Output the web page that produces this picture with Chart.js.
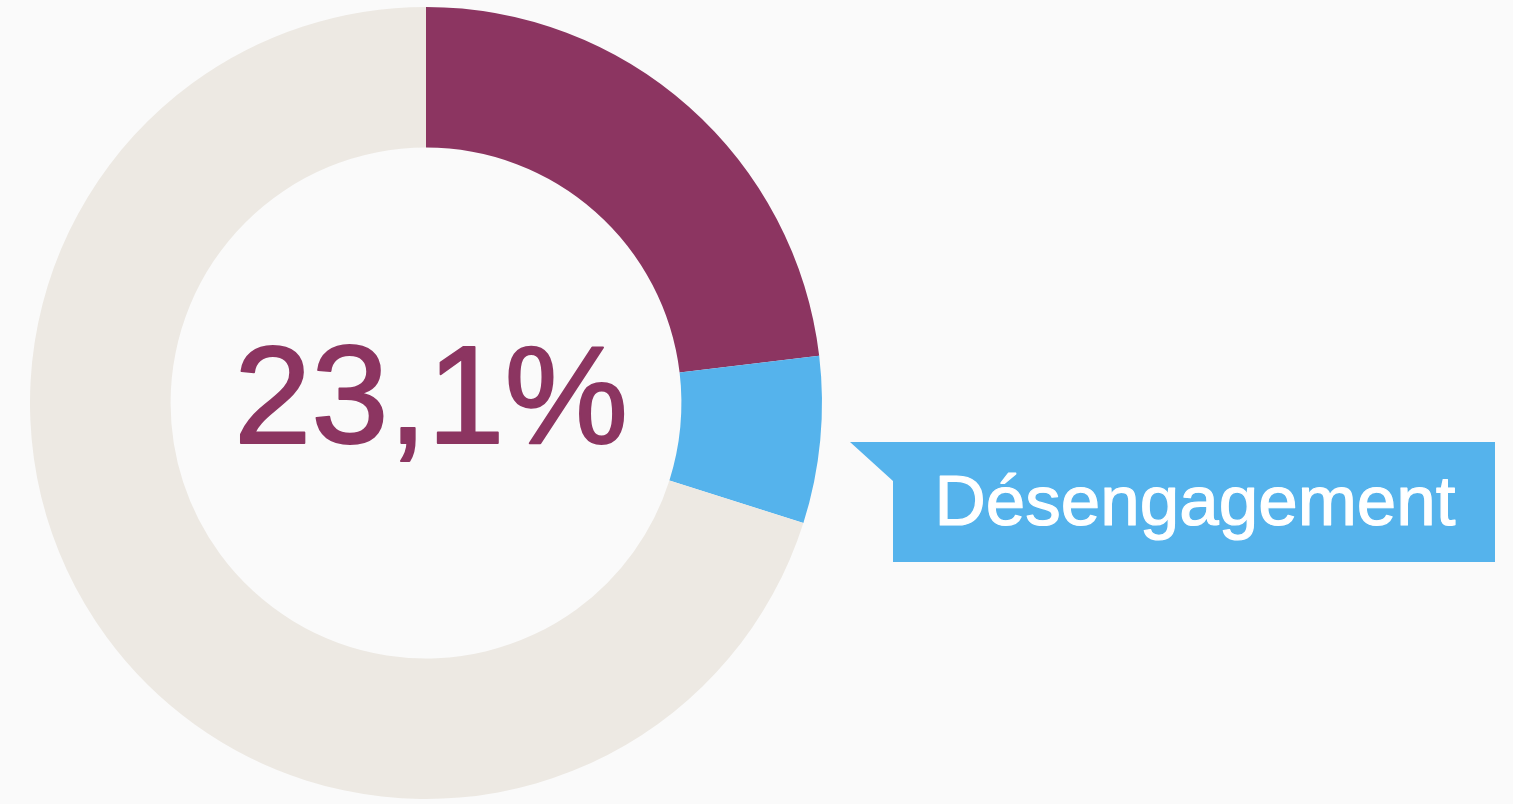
<!DOCTYPE html>
<html lang="fr">
<head>
<meta charset="utf-8">
<title>Désengagement</title>
<script src="https://cdn.jsdelivr.net/npm/chart.js@4"></script>
<style>
    html, body { margin: 0; padding: 0; background: #fafafa; }
    canvas { display: block; }
</style>
</head>
<body>
<canvas id="placeholder" width="1513" height="804"></canvas>
<script>
const categories = ['Engagement', 'Désengagement', 'Autres'];
const values = [23.1, 6.8, 70.1];
const colors = ['#8c3561', '#55b3ec', '#ede9e3'];
const calloutIndex = 1;

const ctx = document.getElementById('placeholder');

// centre value + flag label next to the blue slice
const overlay = {
    id: 'overlay',
    afterDraw(chart) {
        const c = chart.ctx;
        const arc = chart.getDatasetMeta(0).data[0];
        const centreText = values[0].toLocaleString('fr-FR') + '%';
        c.save();
        c.fillStyle = colors[0];
        c.strokeStyle = colors[0];
        c.lineWidth = 2;
        c.lineJoin = 'round';
        c.font = '139px "Liberation Sans", Arial, sans-serif';
        c.textAlign = 'center';
        c.textBaseline = 'alphabetic';
        c.fillText(centreText, arc.x + 5, arc.y + 40);
        c.strokeText(centreText, arc.x + 5, arc.y + 40);

        // callout box
        c.fillStyle = colors[calloutIndex];
        c.beginPath();
        c.moveTo(850, 442);
        c.lineTo(1495, 442);
        c.lineTo(1495, 562);
        c.lineTo(893, 562);
        c.lineTo(893, 481);
        c.closePath();
        c.fill();

        c.fillStyle = '#ffffff';
        c.strokeStyle = '#ffffff';
        c.lineWidth = 1.2;
        c.font = '71px "Liberation Sans", Arial, sans-serif';
        c.textAlign = 'center';
        c.fillText(categories[calloutIndex], 1195, 525);
        c.strokeText(categories[calloutIndex], 1195, 525);
        c.restore();
    }
};

const data = {
    labels: categories,
    datasets: [
        {
            data: values,
            backgroundColor: colors,
            borderWidth: 0,
        }
    ]
};

const config = {
    type: 'doughnut',
    data: data,
    options: {
        responsive: false,
        animation: false,
        cutout: '64.5%',
        layout: {
            padding: { left: 30, right: 691, top: 7, bottom: 5 }
        },
        plugins: {
            legend: { display: false },
            tooltip: { enabled: false },
        },
    },
    plugins: [overlay],
};

const donutChart = new Chart(ctx, config);
</script>
</body>
</html>
